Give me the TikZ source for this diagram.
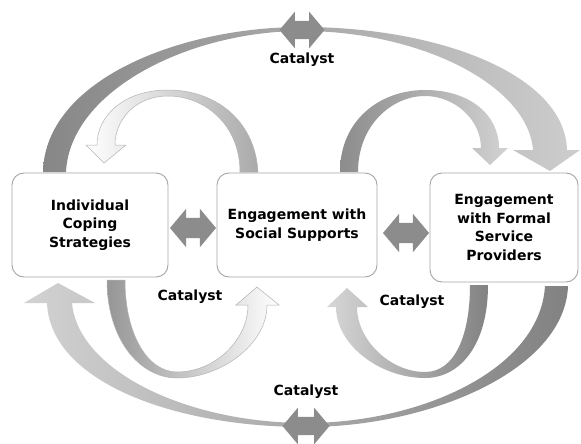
\documentclass[tikz,border=0pt]{standalone}
\usepackage{fontspec}
\setmainfont{DejaVu Sans}
\usetikzlibrary{shapes.arrows}
\definecolor{boxgray}{RGB}{165,165,165}
\definecolor{swapgray}{RGB}{140,140,140}
\definecolor{bandline}{RGB}{180,180,180}
\tikzset{
  box/.style={draw=boxgray, fill=white, rounded corners=12pt, line width=0.9pt,
    align=center, inner sep=0pt, font=\fontsize{14}{18.5}\selectfont\bfseries},
  swap/.style={double arrow, fill=swapgray, minimum height=46pt, inner xsep=0pt, inner ysep=10pt,
    double arrow tip angle=100, double arrow head extend=9pt},
  catalyst/.style={font=\fontsize{14}{16}\selectfont\bfseries},
  band/.style={draw=bandline, line width=0.5pt}
}
\begin{document}
\begin{tikzpicture}[x=1pt, y=-1pt]
    \useasboundingbox[fill=white] (0,0) rectangle (581,444);
    \shade[left color={rgb,255:red,135;green,135;blue,135}, right color={rgb,255:red,205;green,205;blue,205}]
      (43,172) .. controls (45,80) and (180,27) .. (302,27) .. controls (440,27) and (565,75) .. (567,150)
      -- (580,150) -- (550,171) -- (513,150) -- (533,150)
      .. controls (528,85) and (420,31) .. (302,31) .. controls (190,31) and (70,90) .. (66,172) -- cycle;
    \shade[right color={rgb,255:red,130;green,130;blue,130}, left color={rgb,255:red,210;green,210;blue,210}]
      (568,286) .. controls (565,370) and (430,427) .. (306,427) .. controls (170,427) and (50,380) .. (47,303)
      -- (24,303) -- (58,283) -- (95,303) -- (72,303)
      .. controls (78,370) and (185,423) .. (306,423) .. controls (420,423) and (540,370) .. (545,286) -- cycle;
    \shadedraw[band, left color=white, right color={rgb,255:red,170;green,170;blue,170}]
      (258,172) .. controls (255,120) and (215,90) .. (168,90) .. controls (125,90) and (97,115) .. (97,145)
      -- (86,145) -- (104,163) -- (126,145) -- (115,145)
      .. controls (115,120) and (135,96) .. (168,96) .. controls (205,96) and (240,125) .. (240,172) -- cycle;
    \shade[left color={rgb,255:red,140;green,140;blue,140}, right color={rgb,255:red,210;green,210;blue,210}]
      (340,172) .. controls (340,120) and (380,90) .. (425,90) .. controls (470,90) and (499,115) .. (499,148)
      -- (508,148) -- (490,165) -- (472,148) -- (481,148)
      .. controls (481,120) and (455,96) .. (425,96) .. controls (392,96) and (358,125) .. (358,172) -- cycle;
    \shadedraw[band, left color={rgb,255:red,150;green,150;blue,150}, right color=white]
      (107,280) .. controls (107,340) and (140,378) .. (177,378) .. controls (220,378) and (267,345) .. (267,305)
      -- (279,305) -- (257,287) -- (236,305) -- (248,305)
      .. controls (248,340) and (215,372) .. (177,372) .. controls (148,372) and (125,335) .. (125,280) -- cycle;
    \shade[left color={rgb,255:red,215;green,215;blue,215}, right color={rgb,255:red,130;green,130;blue,130}]
      (488,285) .. controls (488,345) and (460,378) .. (425,378) .. controls (380,378) and (336,345) .. (336,307)
      -- (327,307) -- (347,288) -- (368,307) -- (357,307)
      .. controls (357,340) and (390,372) .. (425,372) .. controls (455,372) and (470,335) .. (470,285) -- cycle;
    \node[box, minimum width=156pt, minimum height=104pt] (ics) at (90,225) {Individual\\Coping\\Strategies};
    \node[box, minimum width=160pt, minimum height=104pt] (ess) at (297,225) {Engagement with\\Social Supports};
    \node[box, minimum width=148pt, minimum height=109pt] (efs) at (504,227.5) {Engagement\\with Formal\\Service\\Providers};
    \node[swap] (swapl) at (193,228) {};
    \node[swap] (swapr) at (406,233) {};
    \node[swap, minimum height=45pt, inner ysep=9pt] (swapt) at (302,30) {};
    \node[swap, minimum height=47pt, inner ysep=9pt] (swapb) at (306,426) {};
    \node[catalyst] (catt) at (302,60) {Catalyst};
    \node[catalyst] (catl) at (190,297) {Catalyst};
    \node[catalyst] (catr) at (412,302) {Catalyst};
    \node[catalyst] (catb) at (306,392) {Catalyst};
\end{tikzpicture}
\end{document}
